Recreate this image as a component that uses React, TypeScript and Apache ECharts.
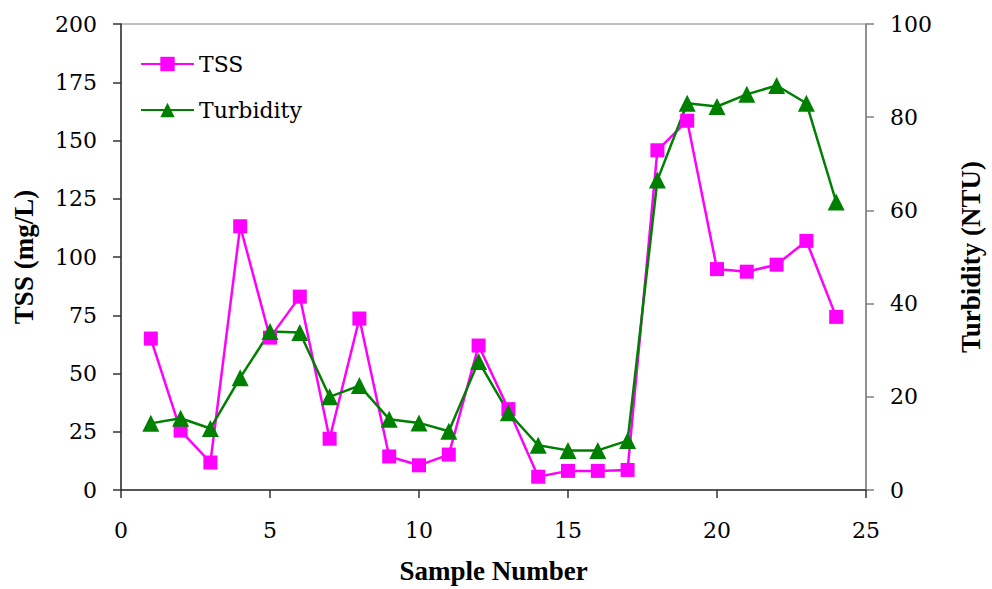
import React, { useEffect, useRef } from "react";
import * as echarts from "echarts";

const sampleNumbers = [1, 2, 3, 4, 5, 6, 7, 8, 9, 10, 11, 12, 13, 14, 15, 16, 17, 18, 19, 20, 21, 22, 23, 24];
const tssValues = [65, 25.5, 11.8, 113.2, 65.4, 83, 22, 73.6, 14.4, 10.6, 15.2, 62, 34.7, 5.7, 8.2, 8.2, 8.6, 145.8, 158.5, 94.8, 93.7, 96.7, 106.9, 74.3];
const turbidityValues = [14.3, 15.4, 13.2, 24.1, 34, 33.8, 20, 22.4, 15.2, 14.4, 12.6, 27.6, 16.6, 9.6, 8.5, 8.5, 10.6, 66.5, 83, 82.3, 84.9, 86.8, 83, 61.8];

const REG_FONT = "DejaVu Serif";
const BOLD_FONT = "Liberation Serif";

export default function App() {
  const ref = useRef<HTMLDivElement>(null);
  useEffect(() => {
    if (!ref.current) return;
    document.body.style.margin = "0";
    document.body.style.overflow = "hidden";
    const chart = echarts.init(ref.current, undefined, { renderer: "svg" });
    const tssData = sampleNumbers.map((x, i) => [x, tssValues[i]]);
    const turbData = sampleNumbers.map((x, i) => [x, turbidityValues[i]]);
    const labelStyle = { fontFamily: REG_FONT, fontSize: 22, color: "#000" };
    const nameStyle = { fontFamily: BOLD_FONT, fontSize: 27, fontWeight: "bold", color: "#000" };
    chart.setOption({
      animation: false,
      backgroundColor: "#ffffff",
      textStyle: { fontFamily: REG_FONT },
      grid: {
        left: 121,
        right: 118,
        top: 24,
        bottom: 94,
        show: true,
        borderColor: "#808080",
        borderWidth: 1,
      },
      legend: {
        left: 140,
        top: 53,
        padding: 0,
        orient: "vertical",
        itemWidth: 53,
        itemHeight: 18,
        itemGap: 24,
        textStyle: { ...labelStyle },
        data: ["TSS", "Turbidity"],
      },
      xAxis: {
        type: "value",
        min: 0,
        max: 25,
        interval: 5,
        name: "Sample Number",
        nameLocation: "middle",
        nameGap: 67,
        nameTextStyle: nameStyle,
        axisLine: { show: true, lineStyle: { color: "#333", width: 1.5 } },
        axisTick: { show: true, length: 8, lineStyle: { color: "#333", width: 1.5 } },
        axisLabel: { ...labelStyle, margin: 29 },
        splitLine: { show: false },
      },
      yAxis: [
        {
          type: "value",
          min: 0,
          max: 200,
          interval: 25,
          name: "TSS (mg/L)",
          nameLocation: "middle",
          nameGap: 84,
          nameTextStyle: nameStyle,
          axisLine: { show: true, lineStyle: { color: "#333", width: 1.5 } },
          axisTick: { show: true, length: 8, lineStyle: { color: "#333", width: 1.5 } },
          axisLabel: { ...labelStyle, margin: 24 },
          splitLine: { show: false },
        },
        {
          type: "value",
          min: 0,
          max: 100,
          interval: 20,
          position: "right",
          name: "Turbidity (NTU)",
          nameLocation: "middle",
          nameGap: 91,
          nameTextStyle: nameStyle,
          axisLine: { show: true, lineStyle: { color: "#808080", width: 1.5 } },
          axisTick: { show: true, length: 8, lineStyle: { color: "#808080", width: 1.5 } },
          axisLabel: { ...labelStyle, margin: 24 },
          splitLine: { show: false },
        },
      ],
      series: [
        {
          name: "TSS",
          type: "line",
          yAxisIndex: 0,
          data: tssData,
          symbol: "rect",
          symbolSize: 14,
          color: "#ff00ff",
          itemStyle: { color: "#ff00ff" },
          lineStyle: { color: "#ff00ff", width: 2.5 },
        },
        {
          name: "Turbidity",
          type: "line",
          yAxisIndex: 1,
          data: turbData,
          symbol: "triangle",
          symbolSize: 17,
          color: "#008000",
          itemStyle: { color: "#008000" },
          lineStyle: { color: "#008000", width: 2.5 },
        },
      ],
    });
    return () => chart.dispose();
  }, []);
  return <div ref={ref} style={{ width: 992, height: 589, position: "absolute", left: 0, top: 0 }} />;
}
